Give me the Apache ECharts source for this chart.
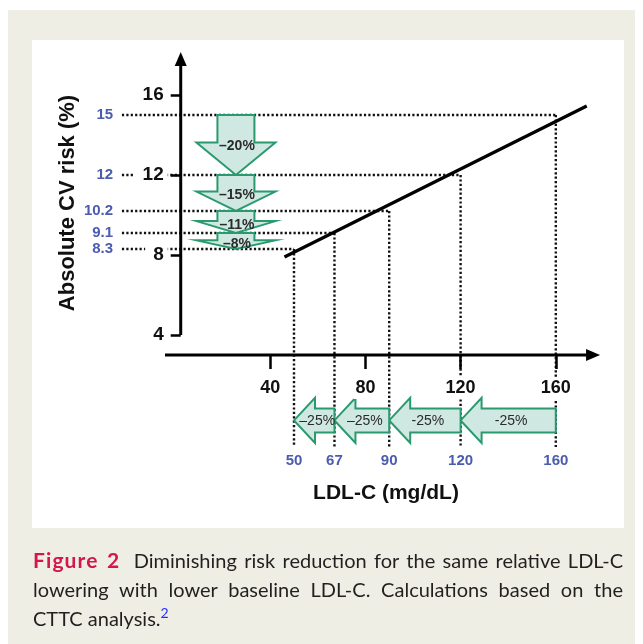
<!DOCTYPE html>
<html>
<head>
<meta charset="utf-8">
<script src="https://cdn.jsdelivr.net/npm/echarts@6/dist/echarts.min.js"></script>
<style>
html,body{margin:0;padding:0;width:643px;height:644px;background:#fff;overflow:hidden}
#bg{position:absolute;left:8px;top:10px;width:627px;height:634px;background:#efeee4}
#panel{position:absolute;left:32px;top:40px;width:592px;height:488px;background:#fff}
#chart{position:absolute;left:0;top:0;width:643px;height:644px}
#cap{position:absolute;left:33px;top:545px;width:590px;font-family:Lato,'Open Sans',sans-serif;font-size:20px;line-height:29px;color:#231f20}
#cap .j{text-align:justify;text-align-last:justify}
#cap .fig{color:#d3174a;font-weight:bold;font-size:21px;letter-spacing:1.1px;margin-right:6px}
#cap sup{color:#2a2aff;font-size:14px;line-height:0}
</style>
</head>
<body>
<div id="bg"></div>
<div id="panel"></div>
<div id="chart"></div>
<div id="cap">
<div class="j"><span class="fig">Figure 2</span> Diminishing risk reduction for the same relative LDL-C</div>
<div class="j">lowering with lower baseline LDL-C. Calculations based on the</div>
<div>CTTC analysis.<sup>2</sup></div>
</div>
<script>
// ---- data ----
const riskTicks = [4, 8, 12, 16];
const ldlTicks = [40, 80, 120, 160];
const ldlPoints = [50, 67, 90, 120, 160];
const riskPoints = [8.3, 9.1, 10.2, 12, 15];
const riskPointLabels = ['8.3', '9.1', '10.2', '12', '15'];
const ldlPointLabels = ['50', '67', '90', '120', '160'];
const trendLdl = [46, 173];
const trendRisk = [7.9, 15.45];
// risk reductions: 15→12, 12→10.2, 10.2→9.1, 9.1→8.3
const riskReductionLabels = ['–20%', '–15%', '–11%', '–8%'];
// LDL reductions: 160→120, 120→90, 90→67, 67→50
const ldlReductionLabels = ['-25%', '-25%', '–25%', '–25%'];

// ---- layout constants (data-space positions of decorations) ----
const DOWN_X = 25.6, LEFT_Y = -0.27;
const H_START = -22.3, V_END = -1.6;
const BLUE_Y_X = -26, BLUE_X_Y = -2.3;
const YAXIS_X = 2.4, YAXIS_FROM = 4, YAXIS_TO = 18.15;
const XAXIS_Y = 3.0, XAXIS_FROM = -4.2, XAXIS_TO = 178.6;

const FONT = '"Liberation Sans", Arial, sans-serif';
const GREEN = '#2a9a6e', GREEN_FILL = '#cfe8e1', BLUE = '#4b5bb0';

const downData = riskReductionLabels.map((l, i) => [riskPoints[4 - i], riskPoints[3 - i]]);
const leftData = ldlReductionLabels.map((l, i) => [ldlPoints[4 - i], ldlPoints[3 - i]]);
const pointData = ldlPoints.map((x, i) => [x, riskPoints[i]]);
const trendData = trendLdl.map((x, i) => [x, trendRisk[i]]);

function renderAxes(params, api) {
  const y0 = api.coord([YAXIS_X, YAXIS_FROM]);
  const y1 = api.coord([YAXIS_X, YAXIS_TO]);
  const x0 = api.coord([XAXIS_FROM, XAXIS_Y]);
  const x1 = api.coord([XAXIS_TO, XAXIS_Y]);
  const st = { stroke: '#000', lineWidth: 3, fill: null };
  return { type: 'group', children: [
    { type: 'line', shape: { x1: y0[0], y1: y0[1], x2: y1[0], y2: y1[1] + 10 }, style: st },
    { type: 'polygon', shape: { points: [[y1[0], y1[1]], [y1[0] + 6, y1[1] + 14], [y1[0] - 6, y1[1] + 14]] }, style: { fill: '#000' } },
    { type: 'line', shape: { x1: x0[0], y1: x0[1], x2: x1[0] - 10, y2: x1[1] }, style: st },
    { type: 'polygon', shape: { points: [[x1[0], x1[1]], [x1[0] - 14, x1[1] - 6], [x1[0] - 14, x1[1] + 6]] }, style: { fill: '#000' } }
  ]};
}

function renderDotted(params, api) {
  const x = api.value(0), y = api.value(1);
  const p = api.coord([x, y]);
  const h = api.coord([H_START, y]);
  const v = api.coord([x, V_END]);
  const st = { stroke: '#111', lineWidth: 2.4, lineDash: [2.2, 2.2], fill: null };
  return { type: 'group', children: [
    { type: 'line', shape: { x1: h[0], y1: h[1], x2: p[0], y2: p[1] }, style: st },
    { type: 'line', shape: { x1: p[0], y1: p[1], x2: v[0], y2: v[1] }, style: st }
  ]};
}

function renderDown(params, api) {
  const t = api.coord([DOWN_X, api.value(0)]);
  const b = api.coord([DOWN_X, api.value(1)]);
  const cx = t[0], ya = t[1], yb = b[1];
  const hy = ya + 0.46 * (yb - ya);
  const sw = 18.5, hw = 39.5;
  return { type: 'group', children: [
    { type: 'polygon', shape: { points: [[cx - sw, ya], [cx + sw, ya], [cx + sw, hy], [cx + hw, hy], [cx, yb], [cx - hw, hy], [cx - sw, hy]] },
      style: { fill: GREEN_FILL, stroke: GREEN, lineWidth: 2 } },
    { type: 'text', x: cx + 1, y: hy + 4, z2: 10,
      style: { text: riskReductionLabels[params.dataIndex], fontSize: 14, fontWeight: 'bold', fontFamily: FONT, fill: '#2b2b2b', align: 'center', verticalAlign: 'middle' } }
  ]};
}

function renderLeft(params, api) {
  const r = api.coord([api.value(0), LEFT_Y]);
  const l = api.coord([api.value(1), LEFT_Y]);
  const cy = r[1], xr = r[0], xt = l[0];
  const hx = xt + 21, sh = 12, hh = 22.5;
  return { type: 'group', children: [
    { type: 'polygon', shape: { points: [[xr, cy - sh], [hx, cy - sh], [hx, cy - hh], [xt, cy], [hx, cy + hh], [hx, cy + sh], [xr, cy + sh]] },
      style: { fill: GREEN_FILL, stroke: GREEN, lineWidth: 2 } },
    { type: 'text', x: (xt + xr) / 2 + 3, y: cy + 1, z2: 10,
      style: { text: ldlReductionLabels[params.dataIndex], fontSize: 14, fontFamily: FONT, fill: '#2b2b2b', align: 'center', verticalAlign: 'middle' } }
  ]};
}

function renderBlueY(params, api) {
  const p = api.coord([BLUE_Y_X, api.value(1)]);
  return { type: 'text', x: p[0], y: p[1],
    style: { text: riskPointLabels[params.dataIndex], fontSize: 15, fontWeight: 'bold', fontFamily: FONT, fill: BLUE, align: 'right', verticalAlign: 'middle' } };
}
function renderBlueX(params, api) {
  const p = api.coord([api.value(0), BLUE_X_Y]);
  return { type: 'text', x: p[0], y: p[1],
    style: { text: ldlPointLabels[params.dataIndex], fontSize: 15, fontWeight: 'bold', fontFamily: FONT, fill: BLUE, align: 'center', verticalAlign: 'middle' } };
}

const chart = echarts.init(document.getElementById('chart'), null, { renderer: 'canvas' });
chart.setOption({
  animation: false,
  backgroundColor: 'transparent',
  grid: { left: 79.8, top: 15, width: 547.4, height: 520, containLabel: false, outerBoundsMode: 'none' },
  xAxis: {
    type: 'value', min: -40, max: 190, offset: -180, z: 10,
    axisLine: { show: false, onZero: false },
    splitLine: { show: false },
    axisTick: { show: true, customValues: ldlTicks, length: 14, lineStyle: { color: '#000', width: 2.5 } },
    axisLabel: { customValues: ldlTicks, margin: 22, fontSize: 18, fontWeight: 'bold', fontFamily: FONT, color: '#111', backgroundColor: '#fff', padding: [2, 2, 2, 2] }
  },
  yAxis: {
    type: 'value', min: -6, max: 20, offset: -100.9, z: 10,
    axisLine: { show: false, onZero: false },
    splitLine: { show: false },
    axisTick: { show: true, customValues: riskTicks, length: 10, lineStyle: { color: '#000', width: 2.5 } },
    axisLabel: { customValues: riskTicks, margin: 13, fontSize: 19, fontWeight: 'bold', fontFamily: FONT, color: '#111', backgroundColor: '#fff', padding: [1, 4, 1, 8] }
  },
  graphic: [
    { type: 'text', x: 68, y: 203, rotation: Math.PI / 2,
      style: { text: 'Absolute CV risk (%)', fontSize: 22, fontWeight: 'bold', fontFamily: FONT, fill: '#111', align: 'center', verticalAlign: 'middle' } },
    { type: 'text', x: 386, y: 493,
      style: { text: 'LDL-C (mg/dL)', fontSize: 21, fontWeight: 'bold', fontFamily: FONT, fill: '#111', align: 'center', verticalAlign: 'middle' } }
  ],
  series: [
    { type: 'custom', name: 'dotted', renderItem: renderDotted, data: pointData, silent: true, clip: false, z: 2 },
    { type: 'custom', name: 'down', renderItem: renderDown, data: downData, silent: true, clip: false, z: 3 },
    { type: 'custom', name: 'left', renderItem: renderLeft, data: leftData, silent: true, clip: false, z: 3 },
    { type: 'line', name: 'trend', data: trendData, showSymbol: false, silent: true,
      lineStyle: { color: '#000', width: 3.2 }, z: 4 },
    { type: 'custom', name: 'axes', renderItem: renderAxes, data: [[0, 0]], silent: true, clip: false, z: 5 },
    { type: 'custom', name: 'blueY', renderItem: renderBlueY, data: riskPoints.map(v => [0, v]), silent: true, clip: false, z: 5 },
    { type: 'custom', name: 'blueX', renderItem: renderBlueX, data: ldlPoints.map(v => [v, 0]), silent: true, clip: false, z: 5 }
  ]
});
</script>
</body>
</html>
